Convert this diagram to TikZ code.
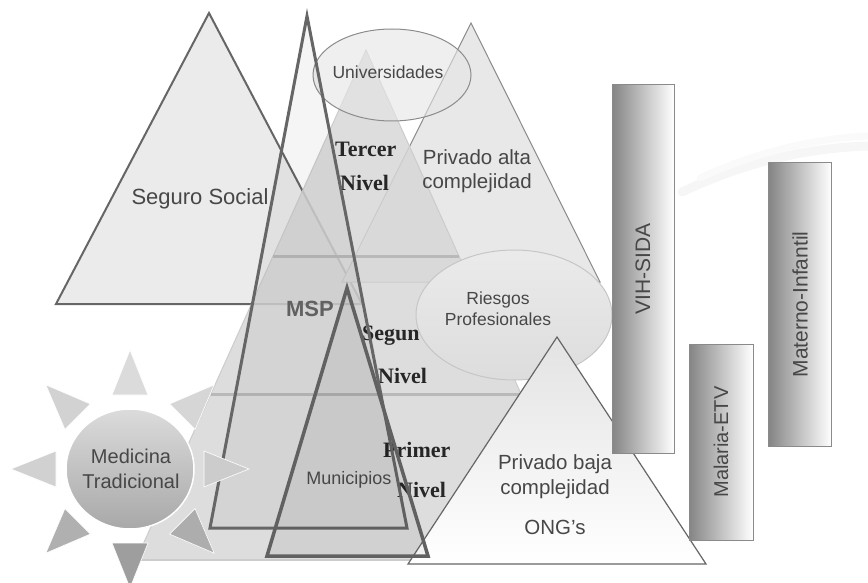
\documentclass[tikz,border=0pt]{standalone}
\usepackage{fontspec}
\setmainfont{Liberation Sans}
\newfontfamily\timesbf{Liberation Serif}[BoldFont={* Bold}]
\usetikzlibrary{shapes.geometric}

\definecolor{txtgray}{HTML}{474747}
\definecolor{edgegray}{HTML}{666666}
\definecolor{thingray}{HTML}{8A8A8A}

\tikzset{
    lbl/.style={text=txtgray, align=center, inner sep=0pt},
    nivel/.style={text=black!85, font=\timesbf\bfseries\fontsize{22}{24}\selectfont, inner sep=0pt, anchor=base west},
    barra/.style={draw=thingray, line width=1pt, left color=black!48, right color=white, inner sep=0pt},
    bartxt/.style={lbl, rotate=90, font=\fontsize{21}{24}\selectfont},
    ovalo/.style={ellipse, inner sep=0pt},
    rayo/.style={draw=white, line width=0.6pt},
}

\begin{document}
\begin{tikzpicture}[x=1pt,y=-1pt]
        \useasboundingbox (0,0) rectangle (868,583);
        % faint background swirl
        \draw[gray!7, line width=9pt, line cap=round](682,192) .. controls (750,160) and (810,148) .. (868,146);
        \draw[gray!4, line width=7pt, line cap=round](700,178) .. controls (760,150) and (820,138) .. (868,136);
        % Seguro Social
        \filldraw[fill=gray!16, draw=edgegray, line width=2pt](209,13)--(56,304)--(362,304)--cycle;
        % Privado alta complejidad
        \filldraw[fill=gray!18, draw=thingray, line width=1pt](471,23)--(342,282)--(600,282)--cycle;
        % pyramid of levels
        \fill[gray!31, fill opacity=0.85](366,50)--(136,560)--(596,560)--cycle;
        \draw[gray!40, line width=1pt](136,560)--(366,50)--(596,560);
        \draw[gray!55, line width=3pt](273,256)--(459,256);
        \draw[gray!55, line width=3pt](211,394)--(521,394);
        \draw[gray!40, line width=2pt](136,560)--(596,560);
        % Universidades
        \node (univ) [ovalo, draw=gray!90, fill=gray!20, fill opacity=0.6, line width=1pt, minimum width=158pt, minimum height=92pt] at (392,75) {};
        % level labels
        \node (tercer) [nivel] at (335,157) {Tercer};
        \node (nivel3) [nivel] at (340,190) {Nivel};
        \node (segun) [nivel] at (362,340) {Segun};
        \node (nivel2) [nivel] at (378,383) {Nivel};
        \node (primer) [nivel] at (383,457) {Primer};
        \node (nivel1) [nivel] at (397,497) {Nivel};
        % MSP
        \filldraw[fill=black, fill opacity=0.04, draw=edgegray, line width=3pt](307,16)--(210,528)--(407,528)--cycle;
        % Medicina Tradicional (sun)
        \foreach \a/\c in {90/28, 45/32, 135/35, 0/40, 180/36, 225/62, 315/64, 270/76}{
            \begin{scope}[shift={(130,469)}, rotate=\a]
                \filldraw[rayo, fill=gray!\c](119,0)--(74,18)--(74,-18)--cycle;
            \end{scope}
        }
        \shade[top color=gray!28, bottom color=gray!68, draw=white, line width=1.5pt](130,469) ellipse (64 and 60);
        % Riesgos Profesionales
        \node (riesgos) [ovalo, draw=gray!45, line width=1pt, top color=gray!16, bottom color=gray!27, minimum width=196pt, minimum height=130pt] at (514,315) {};
        % Privado baja complejidad
        \shade[top color=gray!22, bottom color=white](557,337)--(408,564)--(706,564)--cycle;
        \draw[edgegray, line width=1.2pt](557,337)--(408,564)--(706,564)--cycle;
        % Municipios
        \filldraw[fill=black, fill opacity=0.05, draw=black!62, line width=3.5pt](347,288)--(267,556)--(428,556)--cycle;
        % vertical programmes
        \node (vih) [barra, minimum width=62pt, minimum height=368pt] at (643,269) {};
        \node (malaria) [barra, minimum width=64pt, minimum height=196pt] at (721,442) {};
        \node (materno) [barra, minimum width=63pt, minimum height=283pt] at (800,304.5) {};
        \node (vihtxt) [bartxt] at (vih) {VIH-SIDA};
        \node (malariatxt) [bartxt, font=\fontsize{20}{24}\selectfont] at (malaria) {Malaria-ETV};
        \node (maternotxt) [bartxt] at (materno) {Materno-Infantil};
        % texts
        \node (seguro) [lbl, font=\fontsize{22}{26}\selectfont] at (200,199) {Seguro Social};
        \node (univtxt) [lbl, font=\fontsize{17.5}{21}\selectfont] at (388,72) {Universidades};
        \node (altatxt) [lbl, font=\fontsize{20.5}{24}\selectfont] at (477,171) {Privado alta\\complejidad};
        \node (riesgostxt) [lbl, font=\fontsize{17.5}{21}\selectfont] at (498,309) {Riesgos\\Profesionales};
        \node (bajatxt) [lbl, font=\fontsize{20.5}{25}\selectfont] at (555,477) {Privado baja\\complejidad};
        \node (ong) [lbl, font=\fontsize{20.5}{25}\selectfont] at (555,527) {ONG’s};
        \node (msp) [lbl, text=black!62, font=\bfseries\fontsize{22}{26}\selectfont] at (310,309) {MSP};
        \node (municipios) [lbl, font=\fontsize{18}{22}\selectfont] at (349,480) {Municipios};
        \node (medicina) [lbl, font=\fontsize{20}{25}\selectfont] at (131,469) {Medicina\\Tradicional};
    \end{tikzpicture}
\end{document}
